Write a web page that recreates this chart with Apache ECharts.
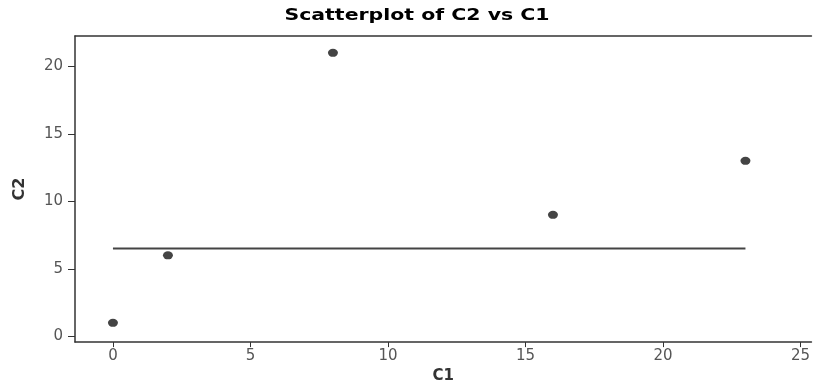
<!DOCTYPE html>
<html>
<head>
<meta charset="utf-8">
<script src="https://cdn.jsdelivr.net/npm/echarts@6/dist/echarts.min.js"></script>
<style>html,body{margin:0;padding:0;background:#fff}#c{width:813px;height:389px}</style>
</head>
<body>
<div id="c"></div>
<script>
var titleText = 'Scatterplot of C2 vs C1';
var c1 = [0, 2, 8, 16, 23];
var c2 = [1, 6, 21, 9, 13];
var lineX = [0, 23];
var lineY = [6.5, 6.5];
var xTicks = [0, 5, 10, 15, 20, 25];
var yTicks = [0, 5, 10, 15, 20];

var pts = c1.map(function (x, i) { return [x, c2[i]]; });
var lpts = lineX.map(function (x, i) { return [x, lineY[i]]; });

var chart = echarts.init(document.getElementById('c'), null, {renderer: 'canvas'});
var font = "'DejaVu Sans', Verdana, sans-serif";
chart.setOption({
  animation: false,
  graphic: [{
    type: 'text', x: 417, y: 16, scaleX: 1.32, silent: true,
    style: {
      text: titleText, fill: '#000',
      font: "bold 15.5px 'DejaVu Sans', Verdana, sans-serif",
      textAlign: 'center', textVerticalAlign: 'middle'
    }
  }],
  grid: {left: 75, right: 0, top: 36, bottom: 40, containLabel: false},
  xAxis: [{
    type: 'value', min: -1.38, max: 25.4, position: 'bottom',
    name: 'C1', nameLocation: 'middle', nameGap: 24,
    nameTextStyle: {fontFamily: font, fontWeight: 'bold', fontSize: 15, color: '#333'},
    axisLine: {show: true, onZero: false, lineStyle: {color: '#333', width: 1.5}},
    axisTick: {show: true, length: 5, lineStyle: {color: '#333', width: 1}, customValues: xTicks},
    axisLabel: {fontFamily: font, fontSize: 15, color: '#555', margin: 7, customValues: xTicks},
    splitLine: {show: false}
  }, {
    type: 'value', min: -1.38, max: 25.4, position: 'top',
    axisLine: {show: true, onZero: false, lineStyle: {color: '#333', width: 1.5}},
    axisTick: {show: false}, axisLabel: {show: false}, splitLine: {show: false}
  }],
  yAxis: {
    type: 'value', min: -0.43, max: 22.25,
    name: 'C2', nameLocation: 'middle', nameGap: 47,
    nameTextStyle: {fontFamily: font, fontWeight: 'bold', fontSize: 16, color: '#333'},
    axisLine: {show: true, onZero: false, lineStyle: {color: '#333', width: 1.5}},
    axisTick: {show: true, length: 7, lineStyle: {color: '#333', width: 1}, customValues: yTicks},
    axisLabel: {fontFamily: font, fontSize: 15, color: '#555', margin: 12, customValues: yTicks},
    splitLine: {show: false}
  },
  series: [{
    type: 'line', data: lpts, showSymbol: false, symbol: 'none',
    lineStyle: {color: '#444', width: 2}, silent: true
  }, {
    type: 'scatter', data: pts, symbol: 'circle', symbolSize: [10, 8],
    itemStyle: {color: '#444', opacity: 1}
  }]
});
</script>
</body>
</html>
